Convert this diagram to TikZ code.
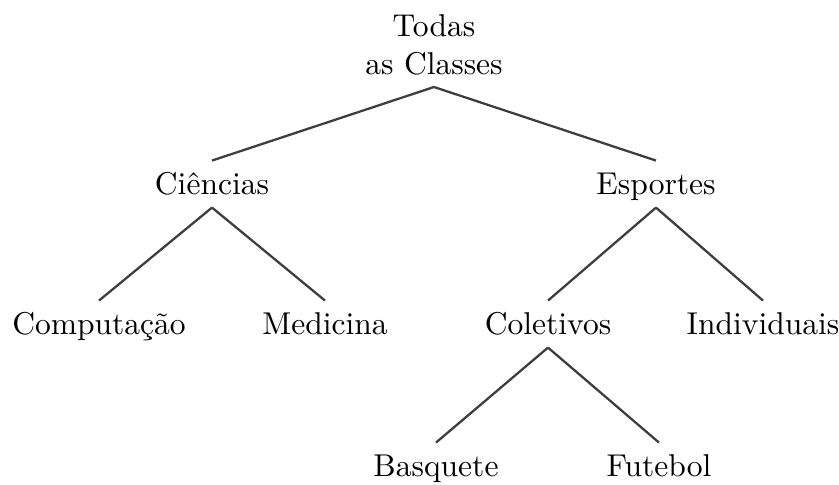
\documentclass[tikz,border=0pt]{standalone}
\begin{document}
\begin{tikzpicture}[x=0.317pt,y=-0.317pt,
  leaf/.style={inner sep=0pt,text height=10.4pt,text depth=4.1pt,anchor=base},
  edge/.style={draw=black!76,line width=0.72pt}]
\useasboundingbox (0,0) rectangle (839,484);
\node[inner xsep=0pt,inner ysep=3.5pt,align=center,anchor=south] (root) at (434,87) {Todas\\as Classes};
\node[leaf] (cie) at (212,194) {Ciências};
\node[leaf] (esp) at (656,194) {Esportes};
\node[leaf] (comp) at (99,334) {Computação};
\node[leaf] (med) at (325,334) {Medicina};
\node[leaf] (col) at (548,334) {Coletivos};
\node[leaf] (ind) at (763,334) {Individuais};
\node[leaf] (bas) at (436,476) {Basquete};
\node[leaf] (fut) at (659,476) {Futebol};
\draw[edge] (root.south) -- (cie.north);
\draw[edge] (root.south) -- (esp.north);
\draw[edge] (cie.south) -- (comp.north);
\draw[edge] (cie.south) -- (med.north);
\draw[edge] (esp.south) -- (col.north);
\draw[edge] (esp.south) -- (ind.north);
\draw[edge] (col.south) -- (bas.north);
\draw[edge] (col.south) -- (fut.north);
\end{tikzpicture}
\end{document}
